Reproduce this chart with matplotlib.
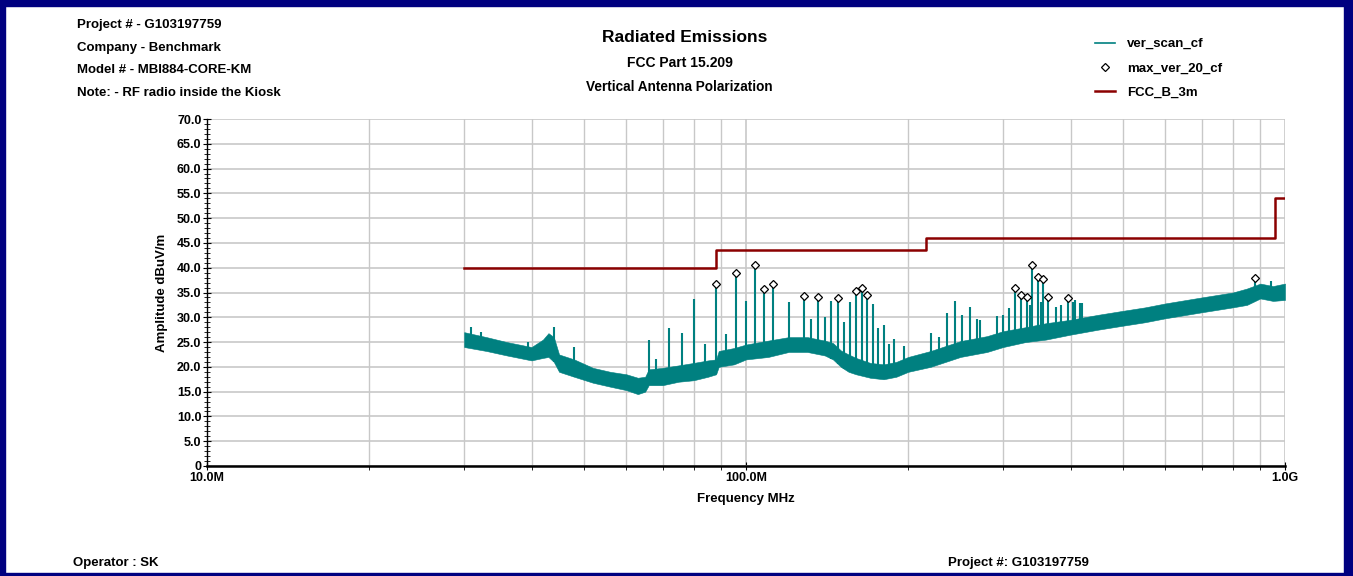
import numpy as np
import matplotlib
matplotlib.use('Agg')
import matplotlib.pyplot as plt
from matplotlib.lines import Line2D
from matplotlib.patches import Rectangle

plt.rcParams['font.family'] = ['Liberation Sans', 'DejaVu Sans']
plt.rcParams['font.weight'] = 'bold'

# --- data (MHz, dBuV/m) ---
scan_freq = [30, 33, 36, 40, 42, 43, 44, 45, 48, 52, 56, 60, 63, 65, 66, 70, 75, 80, 85, 88,
             89, 95, 100, 110, 120, 130, 140, 145, 150, 155, 160, 170, 180, 190, 200, 220,
             250, 280, 300, 330, 360, 400, 450, 500, 550, 600, 700, 800, 850, 900, 950, 1000]
scan_lo = [24.0, 23.2, 22.3, 21.3, 21.8, 22.0, 21.0, 19.0, 18.0, 16.8, 16.0, 15.3, 14.5, 15.0,
           16.3, 16.3, 17.0, 17.3, 18.0, 18.5, 20.0, 20.5, 21.5, 22.0, 23.0, 23.0, 22.3, 21.5,
           20.0, 19.0, 18.5, 17.8, 17.5, 18.0, 19.0, 20.0, 22.0, 23.0, 24.0, 25.0, 25.5, 26.5,
           27.5, 28.3, 29.0, 29.8, 31.0, 32.0, 32.5, 33.8, 33.3, 33.5]
scan_hi = [27.0, 26.0, 25.0, 24.0, 25.5, 26.8, 26.0, 22.5, 21.5, 19.8, 19.0, 18.5, 17.8, 18.0,
           19.5, 19.8, 20.3, 20.8, 21.3, 21.5, 23.2, 23.8, 24.5, 25.3, 26.0, 26.0, 25.3, 24.8,
           23.3, 22.5, 21.8, 20.8, 20.5, 21.0, 22.0, 23.2, 25.2, 26.2, 27.2, 28.0, 28.8, 29.5,
           30.5, 31.3, 32.0, 32.8, 34.0, 35.0, 35.8, 36.8, 36.3, 36.8]

# narrowband spikes in the scan without a marker
spike_freq = [30.9, 32.3, 39.4, 44, 48, 66, 68, 72, 76, 80, 84, 92, 100, 120, 132, 140, 144,
              152, 156, 172, 176, 180, 184, 188, 196, 220, 228, 236, 244, 252, 260, 268, 272,
              292, 300, 308, 336, 352, 376, 384, 404, 408, 416, 420, 940]
spike_amp = [28.1, 27.1, 25.1, 28.1, 24.1, 25.4, 21.6, 27.9, 26.8, 33.7, 24.6, 26.6, 33.3,
             33.1, 29.6, 30.1, 33.3, 29.0, 33.1, 32.6, 27.9, 28.4, 24.7, 25.7, 24.2, 26.9, 26.0,
             30.8, 33.3, 30.5, 32.0, 29.6, 29.5, 30.3, 30.5, 31.8, 32.5, 33.1, 32.1, 32.5, 33.1,
             33.5, 32.9, 32.8, 37.3]

# max_ver_20_cf peaks
peak_freq = [88, 96, 104, 108, 112, 128, 136, 148, 160, 164, 168,
             316, 324, 332, 340, 348, 356, 364, 396, 880]
peak_amp = [36.7, 38.9, 40.6, 35.8, 36.7, 34.3, 34.1, 33.8, 35.3, 35.9, 34.4,
            35.9, 34.4, 34.0, 40.5, 38.2, 37.7, 34.0, 33.8, 38.0]

# FCC class B 3 m limit
limit_freq = [30, 88, 216, 960, 1000]
limit_amp = [40.0, 43.5, 46.0, 54.0, 54.0]

y_ticks = [0, 5, 10, 15, 20, 25, 30, 35, 40, 45, 50, 55, 60, 65, 70]
y_labels = ['0', '5.0', '10.0', '15.0', '20.0', '25.0', '30.0', '35.0', '40.0', '45.0',
            '50.0', '55.0', '60.0', '65.0', '70.0']
x_ticks = [10, 100, 1000]
x_labels = ['10.0M', '100.0M', '1.0G']

teal = '#008080'
red = '#8b0000'

fig = plt.figure(figsize=(13.53, 5.76), dpi=100)
ax = fig.add_axes([207 / 1353, 1 - 466 / 576, (1285 - 207) / 1353, (466 - 119) / 576])

ax.set_xscale('log')
ax.set_xlim(10, 1000)
ax.set_ylim(0, 70)

# scan trace: noise band + spikes
ax.fill_between(scan_freq, scan_lo, scan_hi, color=teal, lw=0.4, zorder=3)
spike_base = np.interp(np.log10(spike_freq), np.log10(scan_freq), scan_lo)
ax.vlines(spike_freq, spike_base, spike_amp, color=teal, lw=1.5, zorder=3)
peak_base = np.interp(np.log10(peak_freq), np.log10(scan_freq), scan_lo)
ax.vlines(peak_freq, peak_base, peak_amp, color=teal, lw=1.5, zorder=3)

ax.plot(peak_freq, peak_amp, ls='none', marker='D', ms=4, mfc='white', mec='black',
        mew=0.9, zorder=5)
ax.plot(limit_freq, limit_amp, drawstyle='steps-post', color=red, lw=1.8, zorder=4)

# axes styling
ax.set_yticks(y_ticks)
ax.set_yticklabels(y_labels)
ax.set_yticks(np.arange(0, 71, 1), minor=True)
ax.set_xticks(x_ticks)
ax.set_xticklabels(x_labels)
ax.xaxis.set_minor_locator(matplotlib.ticker.LogLocator(base=10, subs=np.arange(2, 10)))
ax.xaxis.set_minor_formatter(matplotlib.ticker.NullFormatter())
ax.tick_params(axis='y', which='major', direction='inout', length=6, width=0.8,
               labelsize=9, pad=1)
ax.tick_params(axis='y', which='minor', direction='inout', length=4, width=0.6)
ax.tick_params(axis='x', which='major', direction='inout', length=6, width=0.8,
               labelsize=9, pad=1)
ax.tick_params(axis='x', which='minor', direction='out', length=3, width=0.6)
for lab in ax.get_xticklabels() + ax.get_yticklabels():
    lab.set_fontweight('bold')

ax.grid(True, which='major', color='#c8c8c8', lw=1.2)
ax.grid(True, which='minor', axis='x', color='#c8c8c8', lw=1.0)
ax.spines['top'].set_visible(False)
ax.spines['right'].set_visible(False)
ax.spines['left'].set_linewidth(1.0)
ax.spines['bottom'].set_linewidth(1.8)

ax.set_ylabel('Amplitude dBuV/m', fontsize=9.5, fontweight='bold', labelpad=6)
ax.set_xlabel('Frequency MHz', fontsize=9.5, fontweight='bold', labelpad=7)

# header text
W, H = 1353, 576
hdr = ['Project # - G103197759', 'Company - Benchmark', 'Model # - MBI884-CORE-KM',
       'Note: - RF radio inside the Kiosk']
for i, t in enumerate(hdr):
    fig.text(77 / W, 1 - (25 + 22.5 * i) / H, t, fontsize=9.5, fontweight='bold', va='center')
fig.text(685 / W, 1 - 38 / H, 'Radiated Emissions', fontsize=12.5, fontweight='bold',
         ha='center', va='center')
fig.text(680 / W, 1 - 63 / H, 'FCC Part 15.209', fontsize=10, fontweight='bold',
         ha='center', va='center')
fig.text(679 / W, 1 - 87 / H, 'Vertical Antenna Polarization', fontsize=9.8,
         fontweight='bold', ha='center', va='center')
fig.text(73 / W, 1 - 563 / H, 'Operator : SK', fontsize=9.5, fontweight='bold', va='center')
fig.text(948 / W, 1 - 563 / H, 'Project #: G103197759', fontsize=9.5, fontweight='bold',
         va='center')

# legend
handles = [Line2D([], [], color=teal, lw=1.2),
           Line2D([], [], ls='none', marker='D', ms=4, mfc='white', mec='black', mew=0.9),
           Line2D([], [], color=red, lw=1.8)]
fig.legend(handles, ['ver_scan_cf', 'max_ver_20_cf', 'FCC_B_3m'], loc='upper left',
           bbox_to_anchor=(1095 / W, 1 - 38 / H), frameon=False,
           prop={'size': 9.5, 'weight': 'bold'},
           handlelength=1.5, handletextpad=0.9, labelspacing=0.9, borderpad=0, borderaxespad=0)

# navy border round the figure
navy = '#000080'
for x0, y0, w, h in [(0, 0, W, 3), (0, H - 6, W, 6), (0, 0, 5, H), (W - 9, 0, 9, H)]:
    fig.patches.append(Rectangle((x0 / W, y0 / H), w / W, h / H, transform=fig.transFigure,
                                 color=navy, zorder=10))

fig.savefig('out.png', dpi=100)
